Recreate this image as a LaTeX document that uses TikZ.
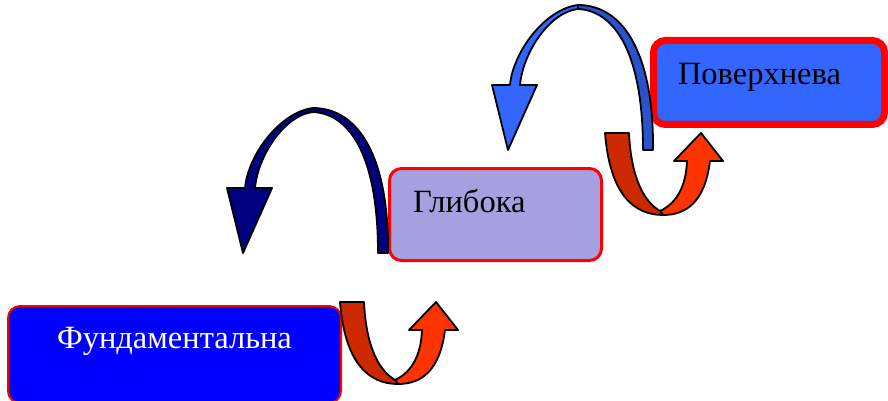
\documentclass[tikz,border=0pt]{standalone}
\usepackage{fontspec}
\setmainfont{Liberation Serif}

\definecolor{lavender}{RGB}{167,160,224}
\definecolor{surfblue}{RGB}{51,102,255}
\definecolor{navyarc}{RGB}{0,0,128}
\definecolor{skyarc}{RGB}{51,102,255}
\definecolor{deeparc}{RGB}{41,82,204}
\definecolor{rustu}{RGB}{204,41,0}
\definecolor{flameu}{RGB}{255,51,0}

\begin{document}
\begin{tikzpicture}[x=1pt, y=-1pt,
    layer/.style={rounded corners=12pt, inner sep=0pt, outer sep=0pt, anchor=north west, draw=red, font=\fontsize{32.5}{38}\selectfont},
    ribbon/.style={draw=black, line width=1.8pt, line join=round}]
    \useasboundingbox (0,0) rectangle (888,401);

    % the three layers
    \node[layer, line width=2pt, fill=blue, text=white, minimum width=333pt, text height=42pt, text depth=55pt] (fund) at (8,306) {Фундаментальна};
    \node[layer, line width=3pt, fill=lavender, text width=165pt, inner xsep=23.5pt, align=left, text height=43.5pt, text depth=48.5pt] (glyb) at (389.5,168.5) {Глибока};
    \node[layer, line width=7pt, fill=surfblue, text width=182pt, inner xsep=24.5pt, align=left, text height=44.5pt, text depth=39.5pt] (pov) at (653.5,40.5) {Поверхнева};

    % arches going down a layer
    \foreach \dx/\dy/\cl/\cr in {0/0/navyarc/navyarc, 265/-103/skyarc/deeparc}{
        \begin{scope}[shift={(\dx,\dy)}]
            \filldraw[ribbon, fill=\cr] (378,253) -- (388,253) .. controls (389,160) and (360,108) .. (313,108)
                -- (313,112) .. controls (352,114) and (378,160) .. (378,253) -- cycle;
            \filldraw[ribbon, fill=\cl] (313,108) .. controls (280,112) and (248,155) .. (245,188)
                -- (227,188) -- (243,253) -- (272,188) -- (255,188)
                .. controls (258,155) and (285,115) .. (313,112) -- cycle;
        \end{scope}
    }

    % u-turns going up a layer
    \foreach \dx/\dy in {0/0, 265/-169}{
        \begin{scope}[shift={(\dx,\dy)}]
            \filldraw[ribbon, fill=flameu] (395,380) .. controls (412,372) and (421,355) .. (422,330)
                -- (409,330) -- (436,302) -- (458,330) -- (445,330)
                .. controls (440,370) and (422,384) .. (398,384) -- cycle;
            \filldraw[ribbon, fill=rustu] (340,302) -- (364,302) .. controls (366,345) and (378,370) .. (395,380)
                -- (398,384) .. controls (370,384) and (345,365) .. (340,302) -- cycle;
        \end{scope}
    }
\end{tikzpicture}
\end{document}
